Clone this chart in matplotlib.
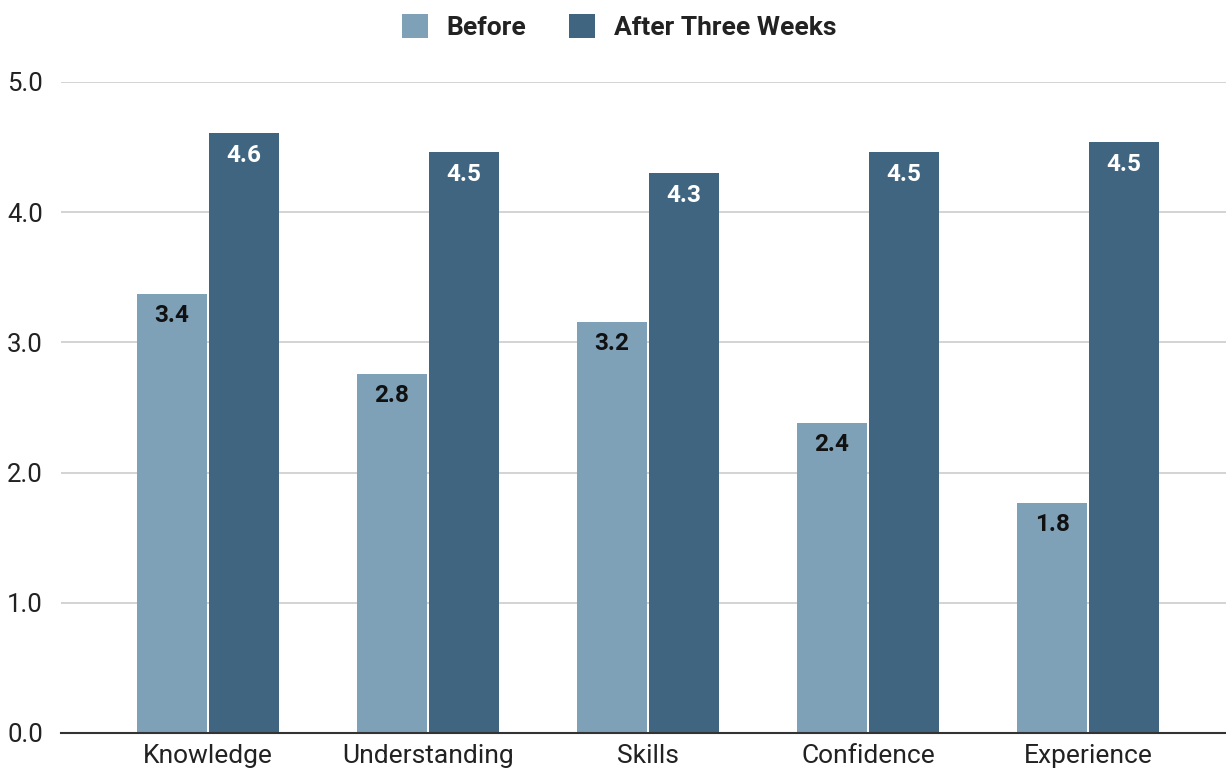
import matplotlib
matplotlib.use("Agg")
import matplotlib.pyplot as plt
import numpy as np
from matplotlib.patches import Patch

categories = ["Knowledge", "Understanding", "Skills", "Confidence", "Experience"]
before = [3.37, 2.76, 3.16, 2.38, 1.77]
after = [4.61, 4.46, 4.30, 4.46, 4.54]
before_labels = ["3.4", "2.8", "3.2", "2.4", "1.8"]
after_labels = ["4.6", "4.5", "4.3", "4.5", "4.5"]
yticks = [0, 1, 2, 3, 4, 5]

c_before = "#7ea1b8"
c_after = "#3f6580"

plt.rcParams['font.family'] = ['Roboto', 'DejaVu Sans']

fig = plt.figure(figsize=(12.26, 7.71), dpi=100)
ax = fig.add_axes([61/1226, (771-733)/771, 1 - 61/1226, (733-82)/771])

x = np.arange(len(categories))
w = 0.318
off = 0.1636
b1 = ax.bar(x - off, before, w, color=c_before, zorder=3)
b2 = ax.bar(x + off, after, w, color=c_after, zorder=3)

for rect, lab in zip(b1, before_labels):
    ax.annotate(lab, (rect.get_x() + rect.get_width()/2, rect.get_height()),
                xytext=(0, -15.5), textcoords="offset points", ha="center", va="center",
                fontsize=17.5, fontweight="bold", color="#111111", zorder=4)
for rect, lab in zip(b2, after_labels):
    ax.annotate(lab, (rect.get_x() + rect.get_width()/2, rect.get_height()),
                xytext=(0, -16), textcoords="offset points", ha="center", va="center",
                fontsize=17.5, fontweight="bold", color="white", zorder=4)

ax.set_xlim(-0.668, 4.627)
ax.set_ylim(0, 5)
ax.set_yticks(yticks)
ax.set_yticklabels([f"{v:.1f}" for v in yticks], fontsize=18.5, color="#222222")
ax.set_xticks(x)
ax.set_xticklabels(categories, fontsize=19, color="#222222")
ax.tick_params(axis="both", length=0)
ax.tick_params(axis="y", pad=13)
ax.tick_params(axis="x", pad=8)
for s in ["top", "right", "left"]:
    ax.spines[s].set_visible(False)
ax.spines["bottom"].set_color("#333333")
ax.spines["bottom"].set_linewidth(1.5)
ax.spines["bottom"].set_zorder(5)
ax.yaxis.grid(True, color="#cccccc", linewidth=1.2, zorder=0)
ax.set_axisbelow(True)

handles = [Patch(facecolor=c_before, label="Before"), Patch(facecolor=c_after, label="After Three Weeks")]
leg = fig.legend(handles=handles, loc="center", bbox_to_anchor=(619/1226, 1 - 27/771), ncol=2,
                 frameon=False, prop={"weight": "bold", "size": 19}, handlelength=1.0, handleheight=1.0,
                 columnspacing=1.6, handletextpad=0.7)
for t in leg.get_texts():
    t.set_color("#222222")

fig.savefig("out.png", dpi=100)
